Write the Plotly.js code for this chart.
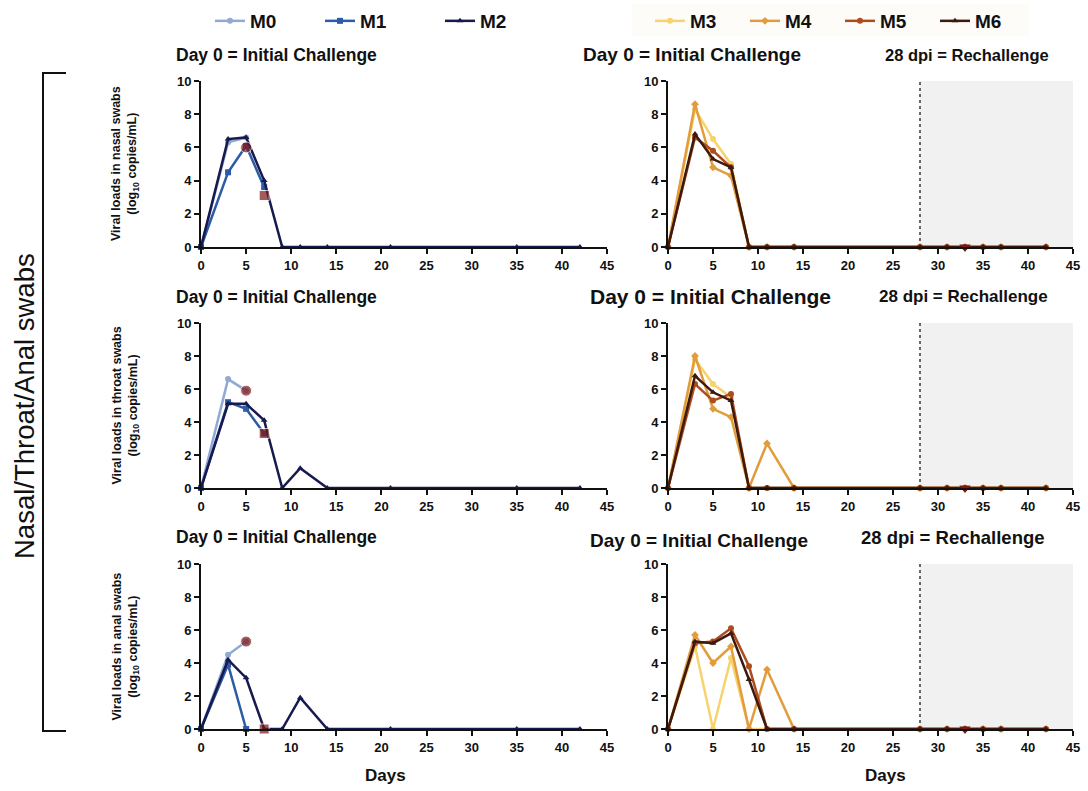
<!DOCTYPE html>
<html><head><meta charset="utf-8">
<script src="https://cdn.plot.ly/plotly-3.0.1.min.js"></script>
<style>html,body{margin:0;padding:0;background:#fff}#chart{width:1088px;height:791px}</style>
</head><body><div id="chart"></div>
<script>
// ---------- data ----------
const animalsLeft = ['M0', 'M1', 'M2'];
const animalsRight = ['M3', 'M4', 'M5', 'M6'];
const xTicks = [0, 5, 10, 15, 20, 25, 30, 35, 40, 45];
const yTicks = [0, 2, 4, 6, 8, 10];
const rechallengeDay = 28;

const daysM0 = [0, 3, 5];
const daysM1 = [0, 3, 5, 7];
const daysM1anal = [0, 3, 5];
const daysM2 = [0, 3, 5, 7, 9, 11, 14, 21, 35, 42];
const daysRight = [0, 3, 5, 7, 9, 11, 14, 28, 31, 33, 35, 37, 42];

// nasal swabs
const nasal_M0 = [0, 6.3, 6.6];
const nasal_M1 = [0, 4.5, 6.1, 3.6];
const nasal_M2 = [0, 6.5, 6.6, 4.0, 0, 0, 0, 0, 0, 0];
const nasal_M3 = [0, 8.3, 6.5, 5.0, 0, 0, 0, 0, 0, 0, 0, 0, 0];
const nasal_M4 = [0, 8.6, 4.8, 4.3, 0, 0, 0, 0, 0, 0, 0, 0, 0];
const nasal_M5 = [0, 6.6, 5.8, 4.8, 0, 0, 0, 0, 0, 0, 0, 0, 0];
const nasal_M6 = [0, 6.8, 5.3, 4.8, 0, 0, 0, 0, 0, 0, 0, 0, 0];

// throat swabs
const throat_M0 = [0, 6.6, 5.9];
const throat_M1 = [0, 5.2, 4.8, 3.3];
const throat_M2 = [0, 5.1, 5.1, 4.1, 0, 1.2, 0, 0, 0, 0];
const throat_M3 = [0, 7.8, 6.3, 5.5, 0, 0, 0, 0, 0, 0, 0, 0, 0];
const throat_M4 = [0, 8.0, 4.8, 4.3, 0, 2.7, 0, 0, 0, 0, 0, 0, 0];
const throat_M5 = [0, 6.3, 5.3, 5.7, 0, 0, 0, 0, 0, 0, 0, 0, 0];
const throat_M6 = [0, 6.8, 5.8, 5.3, 0, 0, 0, 0, 0, 0, 0, 0, 0];

// anal swabs
const anal_M0 = [0, 4.5, 5.3];
const anal_M1 = [0, 3.9, 0];
const anal_M2 = [0, 4.2, 3.1, 0, 0, 1.9, 0, 0, 0, 0];
const anal_M3 = [0, 5.0, 0, 4.3, 0, 0, 0, 0, 0, 0, 0, 0, 0];
const anal_M4 = [0, 5.7, 4.0, 5.0, 0, 3.6, 0, 0, 0, 0, 0, 0, 0];
const anal_M5 = [0, 5.2, 5.3, 6.1, 3.8, 0, 0, 0, 0, 0, 0, 0, 0];
const anal_M6 = [0, 5.3, 5.2, 5.8, 3.0, 0, 0, 0, 0, 0, 0, 0, 0];

// necropsy end-point markers (left panels)
const endDays = [5, 7];
const endNasal = [6.0, 3.1];
const endThroat = [5.9, 3.3];
const endAnal = [5.3, 0];
// rechallenge marker (right panels)
const rechallengeMarkDay = [33];
const rechallengeMarkVal = [0];

// ---------- styles ----------
const colors = {M0: '#91a9d3', M1: '#2d5ba6', M2: '#161a4e', M3: '#f6d36c', M4: '#e29c3c', M5: '#ad4c1e', M6: '#3e190d'};
const symbols = {M0: 'circle', M1: 'square', M2: 'triangle-up', M3: 'circle', M4: 'diamond', M5: 'circle', M6: 'triangle-up'};
// legend text start positions (pixels)
const legendTextX = {M0: 250, M1: 360, M2: 480, M3: 690, M4: 785, M5: 880, M6: 975};
const legendKeys = {M0: 'legend', M1: 'legend2', M2: 'legend3', M3: 'legend4', M4: 'legend5', M5: 'legend6', M6: 'legend7'};

const W = 1088, H = 791;
const px = v => v / W;
const py = v => 1 - v / H;

const rows = [
  {name: 'nasal', y0: 247, y1: 81, label: 'Viral loads in nasal swabs'},
  {name: 'throat', y0: 488, y1: 323, label: 'Viral loads in throat swabs'},
  {name: 'anal', y0: 729, y1: 564, label: 'Viral loads in anal swabs'}
];
const leftDom = [px(201), px(607)];
const rightDom = [px(668), px(1073)];

const seriesData = {
  nasal: {M0: nasal_M0, M1: nasal_M1, M2: nasal_M2, M3: nasal_M3, M4: nasal_M4, M5: nasal_M5, M6: nasal_M6},
  throat: {M0: throat_M0, M1: throat_M1, M2: throat_M2, M3: throat_M3, M4: throat_M4, M5: throat_M5, M6: throat_M6},
  anal: {M0: anal_M0, M1: anal_M1, M2: anal_M2, M3: anal_M3, M4: anal_M4, M5: anal_M5, M6: anal_M6}
};
const endVals = {nasal: endNasal, throat: endThroat, anal: endAnal};
const leftDays = r => ({M0: daysM0, M1: r === 'anal' ? daysM1anal : daysM1, M2: daysM2});

const traces = [];
const layout = {
  width: W, height: H,
  margin: {l: 0, r: 0, t: 0, b: 0},
  paper_bgcolor: '#fff', plot_bgcolor: 'rgba(0,0,0,0)',
  showlegend: true,
  font: {family: 'Liberation Sans, Arial, sans-serif', color: '#111'},
  shapes: [], annotations: []
};

const tickFont = {family: 'Liberation Sans, Arial, sans-serif', size: 13, color: '#111', weight: 700};
function xAxis(dom, anchor) {
  return {domain: dom, anchor: anchor, range: [0, 45], tickvals: xTicks, ticktext: xTicks.map(String),
    ticks: 'outside', ticklen: 5, tickwidth: 2, tickcolor: '#111', showline: true, linewidth: 2, linecolor: '#111',
    showgrid: false, zeroline: false, tickfont: tickFont, fixedrange: true};
}
function yAxis(dom, anchor) {
  return {domain: dom, anchor: anchor, range: [0, 10], tickvals: yTicks, ticktext: yTicks.map(String),
    ticks: 'outside', ticklen: 5, tickwidth: 2, tickcolor: '#111', showline: true, linewidth: 2, linecolor: '#111',
    showgrid: false, zeroline: false, tickfont: tickFont, fixedrange: true};
}

rows.forEach((row, i) => {
  const nL = 2 * i + 1, nR = 2 * i + 2;
  const xL = nL === 1 ? 'x' : 'x' + nL, yL = nL === 1 ? 'y' : 'y' + nL;
  const xR = 'x' + nR, yR = 'y' + nR;
  const yDom = [py(row.y0), py(row.y1)];
  layout[nL === 1 ? 'xaxis' : 'xaxis' + nL] = xAxis(leftDom, yL);
  layout[nL === 1 ? 'yaxis' : 'yaxis' + nL] = yAxis(yDom, xL);
  layout['xaxis' + nR] = xAxis(rightDom, yR);
  layout['yaxis' + nR] = yAxis(yDom, xR);

  // rechallenge shading + dotted line
  layout.shapes.push({type: 'rect', xref: xR, yref: yR, x0: rechallengeDay, x1: 45.3, y0: 0, y1: 10.1,
    fillcolor: '#f1f1f2', line: {width: 0}, layer: 'below'});
  layout.shapes.push({type: 'line', xref: xR, yref: yR, x0: rechallengeDay, x1: rechallengeDay, y0: 0, y1: 10,
    line: {color: '#444', width: 1.6, dash: 'dot'}, layer: 'below'});

  const ld = leftDays(row.name);
  animalsLeft.forEach(a => {
    traces.push({type: 'scatter', mode: 'lines+markers', name: a, x: ld[a], y: seriesData[row.name][a],
      xaxis: xL, yaxis: yL, legend: legendKeys[a], showlegend: i === 0, cliponaxis: false,
      line: {color: colors[a], width: 2.5}, marker: {color: colors[a], size: 6, symbol: symbols[a]}});
  });
  traces.push({type: 'scatter', mode: 'markers', name: 'end', x: endDays, y: endVals[row.name],
    xaxis: xL, yaxis: yL, showlegend: false, cliponaxis: false,
    marker: {color: '#7e1616', size: [11, 10], symbol: ['circle', 'square']}});

  animalsRight.forEach(a => {
    traces.push({type: 'scatter', mode: 'lines+markers', name: a, x: daysRight, y: seriesData[row.name][a],
      xaxis: xR, yaxis: yR, legend: legendKeys[a], showlegend: i === 0, cliponaxis: false,
      line: {color: colors[a], width: 2.5}, marker: {color: colors[a], size: 6, symbol: symbols[a]}});
  });
  traces.push({type: 'scatter', mode: 'markers', name: 'rechallenge', x: rechallengeMarkDay, y: rechallengeMarkVal,
    xaxis: xR, yaxis: yR, showlegend: false, cliponaxis: false,
    marker: {color: '#7e1616', size: 10, symbol: 'triangle-down'}});

  // y-axis title
  const yc = (row.y0 + row.y1) / 2;
  layout.annotations.push({xref: 'paper', yref: 'paper', x: px(125), y: py(yc), textangle: -90,
    text: row.label + '<br>(log<sub>10</sub> copies/mL)', showarrow: false, xanchor: 'center', yanchor: 'middle',
    font: {family: 'Liberation Sans Narrow, Liberation Sans, Arial, sans-serif', size: 12.5, weight: 700, color: '#111'}});
});

// panel titles
const titleFont = s => ({family: 'Liberation Sans, Arial, sans-serif', size: s, weight: 700, color: '#111'});
const titles = [
  ['Day 0 = Initial Challenge', 276, 55, 17.5], ['Day 0 = Initial Challenge', 692, 55, 19], ['28 dpi = Rechallenge', 967, 55, 16.5],
  ['Day 0 = Initial Challenge', 276, 297, 17.5], ['Day 0 = Initial Challenge', 710, 297, 21], ['28 dpi = Rechallenge', 963, 297, 17],
  ['Day 0 = Initial Challenge', 276, 537, 17.5], ['Day 0 = Initial Challenge', 699, 540, 19], ['28 dpi = Rechallenge', 953, 537, 18.5]
];
titles.forEach(t => layout.annotations.push({xref: 'paper', yref: 'paper', x: px(t[1]), y: py(t[2]),
  text: t[0], showarrow: false, xanchor: 'center', yanchor: 'middle', font: titleFont(t[3])}));

// x axis titles
[385, 885].forEach(cx => layout.annotations.push({xref: 'paper', yref: 'paper', x: px(cx), y: py(775),
  text: 'Days', showarrow: false, xanchor: 'center', yanchor: 'middle', font: titleFont(17)}));

// big side label and bracket
layout.annotations.push({xref: 'paper', yref: 'paper', x: px(24), y: py(406), textangle: -90,
  text: 'Nasal/Throat/Anal swabs', showarrow: false, xanchor: 'center', yanchor: 'middle',
  font: {family: 'Liberation Sans Narrow, Liberation Sans, Arial, sans-serif', size: 27.5, color: '#111'}});
layout.shapes.push({type: 'path', xref: 'paper', yref: 'paper',
  path: `M ${px(66)} ${py(73)} L ${px(43)} ${py(73)} L ${px(43)} ${py(731)} L ${px(66)} ${py(731)}`,
  line: {color: '#111', width: 2}});

// very faint band behind the right legend group
layout.shapes.push({type: 'rect', xref: 'paper', yref: 'paper', x0: px(632), x1: px(1030), y0: py(36), y1: py(4),
  fillcolor: '#fdfcf8', line: {width: 0}, layer: 'below'});

// legends (one per animal so each sits where the reference puts it)
Object.keys(legendKeys).forEach(a => {
  layout[legendKeys[a]] = {orientation: 'h', x: px(legendTextX[a] - 40), y: py(2), xanchor: 'left', yanchor: 'top',
    font: {family: 'Liberation Sans, Arial, sans-serif', size: 19, weight: 700, color: '#111'},
    bgcolor: 'rgba(0,0,0,0)', itemwidth: 30};
});

Plotly.newPlot('chart', traces, layout, {staticPlot: true, displayModeBar: false});
</script></body></html>
